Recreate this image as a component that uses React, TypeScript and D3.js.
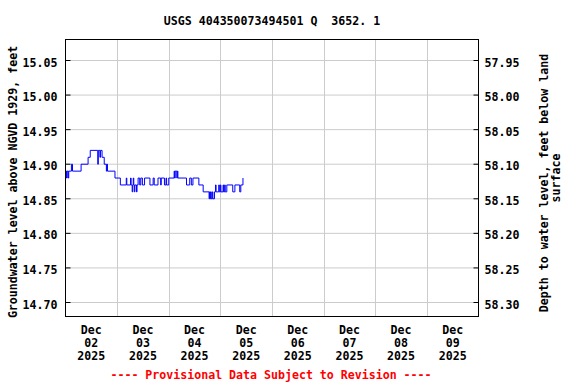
import React from "react";
import * as d3 from "d3";

const TITLE = "USGS 404350073494501 Q  3652. 1";
const LEFT_LABEL = "Groundwater level above NGVD 1929, feet";
const RIGHT_LABEL_1 = "Depth to water level, feet below land";
const RIGHT_LABEL_2 = "surface";
const NOTE = "---- Provisional Data Subject to Revision ----";

const levelTicks = [14.7, 14.75, 14.8, 14.85, 14.9, 14.95, 15.0, 15.05];
const LAND_SURFACE_OFFSET = 73.0; // depth below land = 73.00 - level
const dayLabels = ["02", "03", "04", "05", "06", "07", "08", "09"];
const monthLabel = "Dec";
const yearLabel = "2025";

// readings: hours after 2025-12-02 00:00, groundwater level (ft)
const readingHours = [
  0, 0.5, 0.75, 1.25, 1.5, 2.75, 3.25, 7.25, 10.5, 11.5,
  15, 15.25, 16, 16.25, 17, 18, 19, 19.25, 19.5, 23,
  25.5, 28.25, 28.5, 30.25, 30.5, 31, 31.25, 31.5, 31.75, 32,
  32.25, 33, 33.25, 33.75, 34.5, 35, 35.75, 36.75, 39.25, 40.75,
  41.25, 43, 44.25, 44.5, 46, 46.75, 47, 48, 50.5, 50.75,
  51, 51.75, 52, 52.25, 56.25, 57.75, 58.5, 59.25, 62, 64,
  66.75, 67, 67.25, 67.5, 67.75, 68.25, 68.5, 69.25, 69.75, 70,
  71.25, 71.5, 72, 72.25, 73.25, 73.5, 74, 74.25, 75, 77.75,
  78.75, 81, 81.5, 82.5,
];
const levels = [
  14.89, 14.88, 14.89, 14.88, 14.89, 14.9, 14.89, 14.9, 14.91, 14.92,
  14.9, 14.92, 14.91, 14.92, 14.91, 14.9, 14.89, 14.9, 14.89, 14.88,
  14.87, 14.88, 14.87, 14.88, 14.87, 14.86, 14.87, 14.88, 14.87, 14.86,
  14.87, 14.86, 14.87, 14.88, 14.87, 14.88, 14.87, 14.88, 14.87, 14.88,
  14.87, 14.88, 14.87, 14.88, 14.87, 14.88, 14.87, 14.88, 14.89, 14.88,
  14.89, 14.88, 14.89, 14.88, 14.87, 14.88, 14.87, 14.88, 14.87, 14.86,
  14.85, 14.86, 14.85, 14.86, 14.85, 14.86, 14.85, 14.86, 14.87, 14.86,
  14.87, 14.86, 14.87, 14.86, 14.87, 14.86, 14.87, 14.86, 14.87, 14.86,
  14.87, 14.86, 14.87, 14.88,
];

const START = new Date(2025, 11, 2, 0, 0, 0);
const END = new Date(2025, 11, 10, 0, 0, 0);

const FONT = "'DejaVu Sans Mono', monospace";

export default function App() {
  const left = 65.5, right = 478.5, top = 39.5, bottom = 316.5;
  const x = d3.scaleTime().domain([START, END]).range([left, right]);
  const y = d3.scaleLinear().domain([14.7, 15.05]).range([302.5, 60.5]);

  const data = readingHours.map((h, i) => ({
    t: new Date(START.getTime() + h * 3600 * 1000),
    v: levels[i],
  }));
  const line = d3
    .line<{ t: Date; v: number }>()
    .x((d) => x(d.t))
    .y((d) => y(d.v))
    .curve(d3.curveStepAfter);

  const midnights = d3.timeDay.range(d3.timeDay.offset(START, 1), END);
  const noons = dayLabels.map((_, i) => d3.timeHour.offset(d3.timeDay.offset(START, i), 12));

  const textStyle = { fontFamily: FONT, fontWeight: "bold" as const, fontSize: 11.6 };

  return (
    <svg
      width={576}
      height={384}
      style={{ position: "absolute", left: 0, top: 0, background: "#fff" }}
    >
      <rect width={576} height={384} fill="#fff" />
      {/* grid */}
      {levelTicks.map((t) => (
        <line key={"gy" + t} x1={left} x2={right} y1={y(t)} y2={y(t)} stroke="#cccccc" strokeWidth={1} />
      ))}
      {midnights.map((d) => (
        <line key={"gx" + d.getTime()} x1={Math.round(x(d)) + 0.5} x2={Math.round(x(d)) + 0.5} y1={top} y2={bottom} stroke="#cccccc" strokeWidth={1} />
      ))}
      {/* inward y ticks */}
      {levelTicks.map((t) => (
        <g key={"tk" + t}>
          <line x1={left} x2={left + 5} y1={y(t)} y2={y(t)} stroke="#000" />
          <line x1={right - 5} x2={right} y1={y(t)} y2={y(t)} stroke="#000" />
        </g>
      ))}
      {/* data */}
      <path d={line(data) || ""} fill="none" stroke="#0000ff" strokeWidth={1} />
      {/* frame */}
      <rect x={left} y={top} width={right - left} height={bottom - top} fill="none" stroke="#000" strokeWidth={1} />
      {/* left tick labels */}
      {levelTicks.map((t) => (
        <text key={"ll" + t} x={57.5} y={y(t) + 6} textAnchor="end" style={textStyle}>
          {t.toFixed(2)}
        </text>
      ))}
      {/* right tick labels */}
      {levelTicks.map((t) => (
        <text key={"rl" + t} x={484.5} y={y(t) + 6} textAnchor="start" style={textStyle}>
          {(LAND_SURFACE_OFFSET - t).toFixed(2)}
        </text>
      ))}
      {/* x labels */}
      {noons.map((d, i) => (
        <text key={"xl" + i} x={x(d)} textAnchor="middle" style={textStyle}>
          <tspan x={x(d)} y={334}>{monthLabel}</tspan>
          <tspan x={x(d)} y={347}>{dayLabels[i]}</tspan>
          <tspan x={x(d)} y={360}>{yearLabel}</tspan>
        </text>
      ))}
      {/* title */}
      <text x={272} y={24.5} textAnchor="middle" style={{ ...textStyle, whiteSpace: "pre" }}>
        {TITLE}
      </text>
      {/* axis titles */}
      <text transform={`translate(16.5,182) rotate(-90)`} textAnchor="middle" style={textStyle}>
        {LEFT_LABEL}
      </text>
      <text transform={`translate(547.5,183) rotate(-90)`} textAnchor="middle" style={textStyle}>
        {RIGHT_LABEL_1}
      </text>
      <text transform={`translate(559.5,178) rotate(-90)`} textAnchor="middle" style={textStyle}>
        {RIGHT_LABEL_2}
      </text>
      {/* provisional note */}
      <text x={271} y={378.5} textAnchor="middle" style={{ ...textStyle, fill: "#ff0000" }}>
        {NOTE}
      </text>
    </svg>
  );
}
